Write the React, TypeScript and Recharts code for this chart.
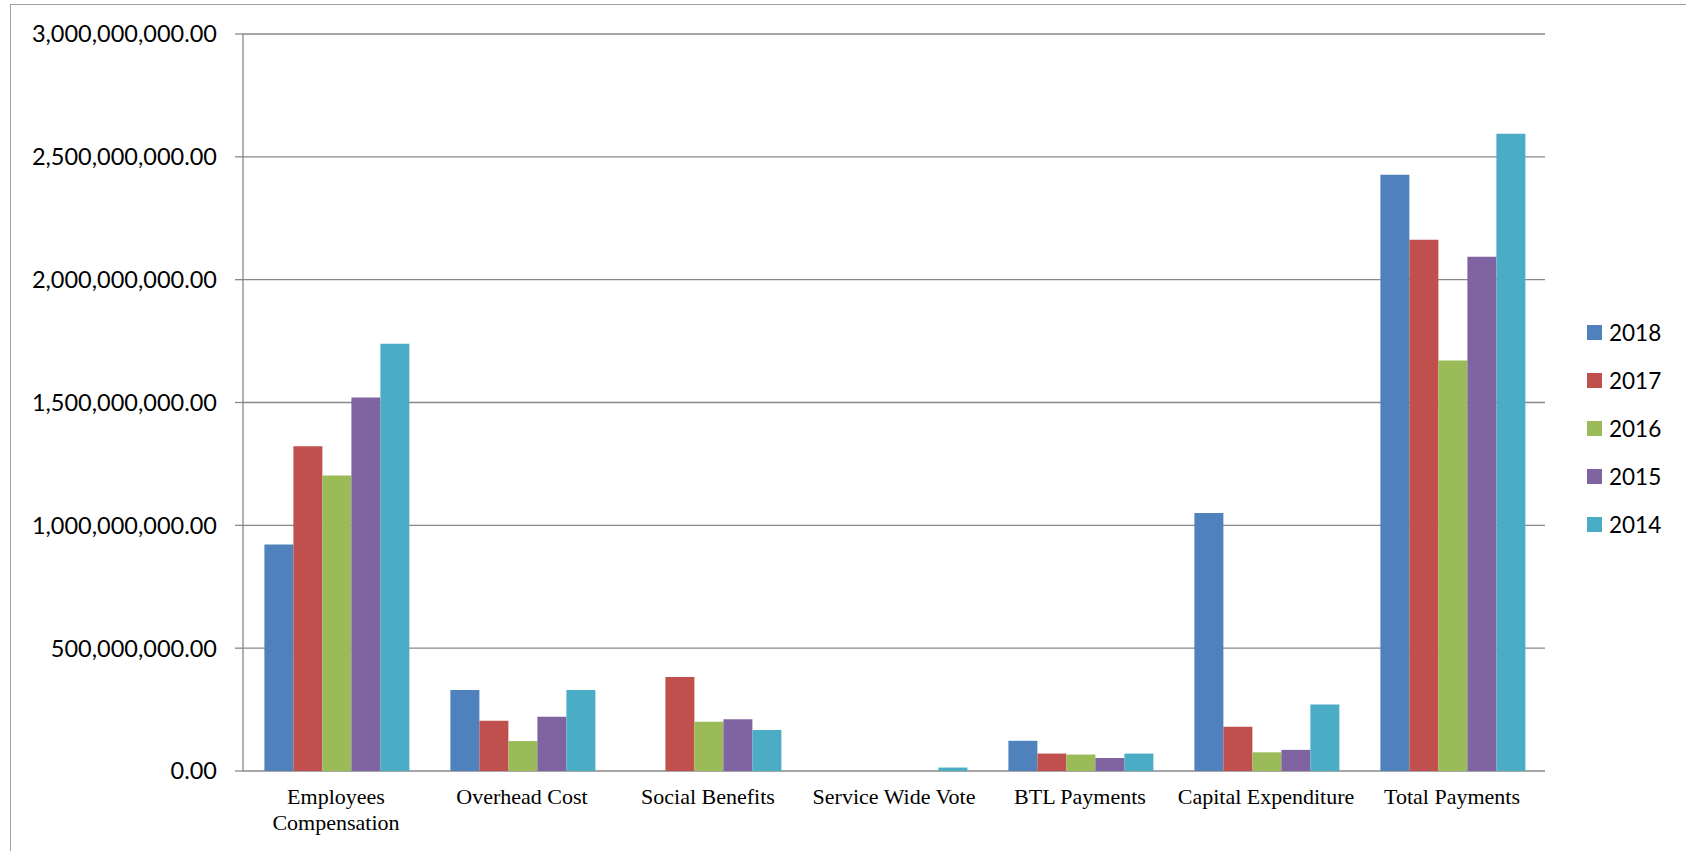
import { BarChart, Bar, XAxis, YAxis, CartesianGrid } from 'recharts';

const categories = [
  'Employees Compensation',
  'Overhead Cost',
  'Social Benefits',
  'Service Wide Vote',
  'BTL Payments',
  'Capital Expenditure',
  'Total Payments'
];

const values2018 = [922e6, 330e6, 0, 0, 123e6, 1050e6, 2427e6];
const values2017 = [1322e6, 205e6, 383e6, 0, 71e6, 180e6, 2162e6];
const values2016 = [1203e6, 122e6, 200e6, 0, 67e6, 76e6, 1671e6];
const values2015 = [1520e6, 221e6, 211e6, 0, 53e6, 86e6, 2093e6];
const values2014 = [1739e6, 330e6, 167e6, 14e6, 71e6, 271e6, 2594e6];

const yTicks = [0, 500e6, 1000e6, 1500e6, 2000e6, 2500e6, 3000e6];
const boundaryTicks = [0, 1, 2, 3, 4, 5, 6, 7];

const series = [
  { key: 'y2018', name: '2018', color: '#4F81BD', values: values2018 },
  { key: 'y2017', name: '2017', color: '#C0504D', values: values2017 },
  { key: 'y2016', name: '2016', color: '#9BBB59', values: values2016 },
  { key: 'y2015', name: '2015', color: '#8064A2', values: values2015 },
  { key: 'y2014', name: '2014', color: '#4BACC6', values: values2014 }
];

const chartData = categories.map((name, i) => {
  const row: Record<string, string | number> = { name, idx: i + 0.5 };
  series.forEach(s => {
    row[s.key] = s.values[i];
  });
  return row;
});

const GRID = '#888888';

const formatMoney = (v: number) =>
  v.toLocaleString('en-US', { minimumFractionDigits: 2, maximumFractionDigits: 2 });

const CategoryTick = (props: any) => {
  const { x, y, payload } = props;
  const label: string = payload.value;
  const lines = label.length > 20 ? label.split(' ') : [label];
  return (
    <text
      x={x}
      y={y}
      textAnchor="middle"
      fill="#000"
      fontFamily="'Liberation Serif', 'Times New Roman', serif"
      fontSize={22}
    >
      {lines.map((line, i) => (
        <tspan key={line} x={x} dy={i === 0 ? 24 : 26}>
          {line}
        </tspan>
      ))}
    </text>
  );
};

export default function App() {
  return (
    <div style={{ position: 'absolute', left: 0, top: 0, width: 1686, height: 851, overflow: 'hidden', background: '#fff' }}>
      <div
        style={{
          position: 'absolute',
          left: 10,
          top: 4,
          width: 1720,
          height: 900,
          border: '1.5px solid #a0a0a0',
          boxSizing: 'border-box'
        }}
      />
      <div style={{ position: 'absolute', left: 0, top: 0 }}>
        <BarChart
          width={1686}
          height={851}
          data={chartData}
          margin={{ top: 34, right: 141, bottom: 20, left: 0 }}
          barCategoryGap="11.5%"
          barGap={0}
        >
          <CartesianGrid vertical={false} stroke={GRID} strokeWidth={1.3} />
          <XAxis
            xAxisId="edges"
            type="number"
            dataKey="idx"
            domain={[0, 7]}
            ticks={boundaryTicks}
            height={0}
            tick={false}
            tickSize={7}
            axisLine={{ stroke: GRID, strokeWidth: 1.5 }}
            tickLine={{ stroke: GRID, strokeWidth: 1.3 }}
          />
          <XAxis
            xAxisId="cat"
            dataKey="name"
            height={60}
            axisLine={false}
            tickLine={false}
            tickSize={7}
            tickMargin={2}
            interval={0}
            tick={<CategoryTick />}
          />
          <YAxis
            width={243}
            domain={[0, 3000e6]}
            ticks={yTicks}
            interval={0}
            tickFormatter={formatMoney}
            tickSize={8}
            tickMargin={18}
            axisLine={{ stroke: GRID, strokeWidth: 1.3 }}
            tickLine={{ stroke: GRID, strokeWidth: 1.3 }}
            tick={{ fill: '#000', fontSize: 23.5, fontFamily: 'Lato, "Open Sans", sans-serif' }}
          />
          {series.map(s => (
            <Bar key={s.key} xAxisId="cat" dataKey={s.key} name={s.name} fill={s.color} isAnimationActive={false} />
          ))}
        </BarChart>
      </div>
      {series.map((s, i) => (
        <div
          key={s.key}
          style={{
            position: 'absolute',
            left: 1587,
            top: 319 + i * 48,
            height: 26,
            display: 'flex',
            alignItems: 'center',
            fontFamily: 'Lato, "Open Sans", sans-serif',
            fontSize: 22.5,
            color: '#000'
          }}
        >
          <div style={{ width: 15, height: 15, background: s.color, marginRight: 7 }} />
          <span>{s.name}</span>
        </div>
      ))}
    </div>
  );
}
